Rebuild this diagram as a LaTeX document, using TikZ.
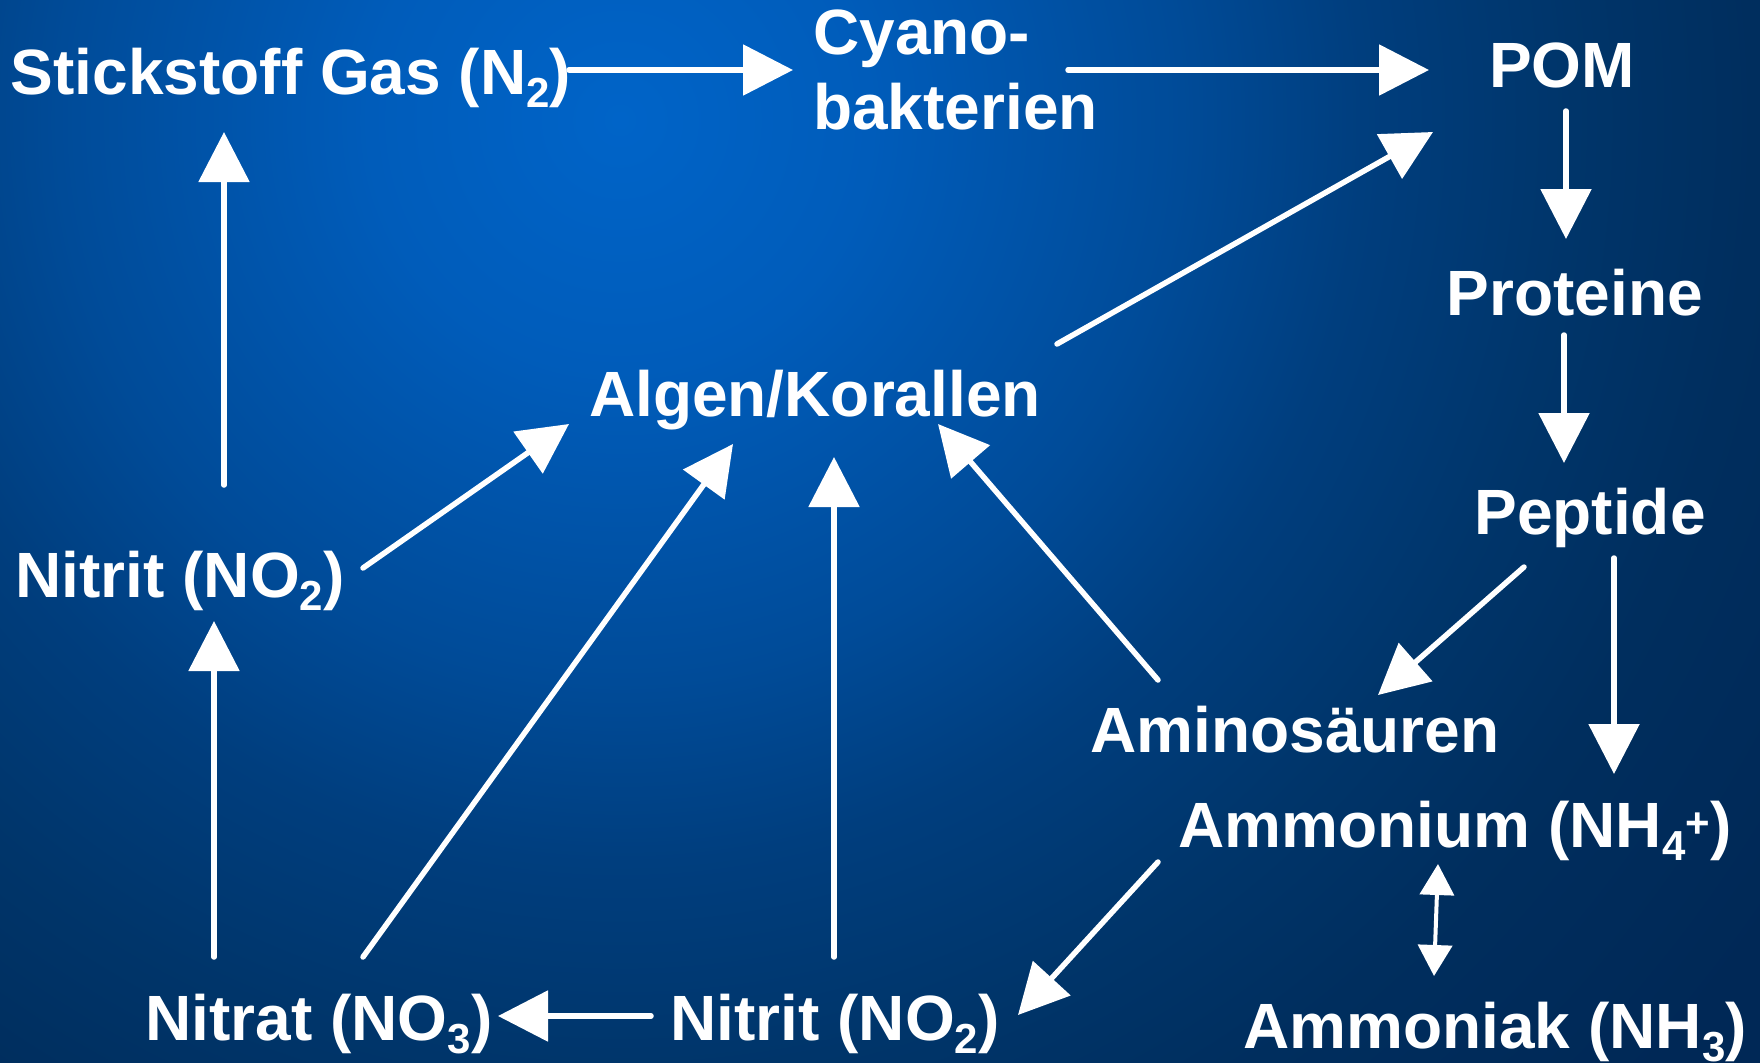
\documentclass[tikz,border=0pt]{standalone}
\usepackage{fontspec}
\setmainfont{Liberation Sans}
\usetikzlibrary{arrows.meta}

% background glow colours
\definecolor{glowA}{HTML}{0064C8}
\definecolor{glowB}{HTML}{005CBA}
\definecolor{glowC}{HTML}{004B98}
\definecolor{glowD}{HTML}{003E7E}
\definecolor{glowE}{HTML}{00356A}
\definecolor{glowF}{HTML}{002E5E}
\definecolor{glowG}{HTML}{002856}

\pgfdeclareradialshading{seaglow}{\pgfpoint{0bp}{0bp}}{%
  color(0bp)=(glowA); color(250bp)=(glowB); color(560bp)=(glowC);
  color(740bp)=(glowD); color(950bp)=(glowE); color(1130bp)=(glowF);
  color(1400bp)=(glowG); color(2000bp)=(glowG)}

% chemical indices
\newcommand{\chemsub}[1]{\raisebox{-13pt}{\fontsize{42}{42}\selectfont #1}}
\newcommand{\chemsup}[1]{\raisebox{10pt}{\fontsize{42}{42}\selectfont #1}}

\begin{document}
\begin{tikzpicture}[x=1pt,y=-1pt,
  term/.style={text=white,inner sep=0pt,font=\fontsize{64}{75}\selectfont\bfseries},
  flow/.style={draw=white,line width=5.5pt,line cap=round,
    -{Triangle[length=50pt,width=50pt]}},
  equil/.style={draw=white,line width=4pt,
    {Triangle[length=31pt,width=34pt]}-{Triangle[length=31pt,width=34pt]}}]

\useasboundingbox (0,0) rectangle (1760,1062);
\begin{scope}
  \clip (0,0) rectangle (1760,1062);
  \node[inner sep=0pt] at (620,120) {\pgfuseshading{seaglow}};
\end{scope}

% compartments
\node[term,anchor=base] (n2) at (291,95) {Stickstoff Gas (N\chemsub{2})};
\node[term,anchor=north west,align=left] (cyano) at (813,10) {Cyano-\\bakterien};
\node[term,anchor=base] (pom) at (1562,88) {POM};
\node[term,anchor=base] (proteine) at (1575,315) {Proteine};
\node[term,anchor=base] (peptide) at (1590,534) {Peptide};
\node[term,anchor=base] (algen) at (815,416) {Algen/Korallen};
\node[term,anchor=base] (nitritL) at (180,597) {Nitrit (NO\chemsub{2})};
\node[term,anchor=base] (amino) at (1295,752) {Aminosäuren};
\node[term,anchor=base] (ammonium) at (1455,847) {Ammonium (NH\chemsub{4}\chemsup{+})};
\node[term,anchor=base] (ammoniak) at (1495,1048) {Ammoniak (NH\chemsub{3})};
\node[term,anchor=base] (nitrat) at (319,1040) {Nitrat (NO\chemsub{3})};
\node[term,anchor=base] (nitritB) at (835,1040) {Nitrit (NO\chemsub{2})};

% connector end points
\coordinate (n2-out) at (569,70);
\coordinate (cyano-in) at (793,70);
\coordinate (cyano-out) at (1068,70);
\coordinate (pom-in) at (1429,70);
\coordinate (pom-in2) at (1433,132);
\coordinate (pom-out) at (1566,111);
\coordinate (proteine-in) at (1566,239);
\coordinate (proteine-out) at (1564,335);
\coordinate (peptide-in) at (1564,463);
\coordinate (peptide-out1) at (1524,567);
\coordinate (peptide-out2) at (1614,558);
\coordinate (amino-in) at (1378,695);
\coordinate (amino-out) at (1158,680);
\coordinate (ammonium-in) at (1614,774);
\coordinate (ammonium-top) at (1438,864);
\coordinate (ammoniak-top) at (1434,976);
\coordinate (ammonium-out) at (1158,862);
\coordinate (nitritB-in) at (1018,1015);
\coordinate (nitritB-out) at (651,1016);
\coordinate (nitritB-up) at (834,957);
\coordinate (nitrat-in) at (498,1016);
\coordinate (nitrat-up) at (214,957);
\coordinate (nitrat-diag) at (363,957);
\coordinate (nitritL-in) at (214,621);
\coordinate (nitritL-up) at (224,485);
\coordinate (nitritL-diag) at (363,568);
\coordinate (n2-in) at (224,132);
\coordinate (algen-in1) at (569,424);
\coordinate (algen-in2) at (733,444);
\coordinate (algen-in3) at (834,457);
\coordinate (algen-in4) at (938,424);
\coordinate (algen-out) at (1057,344);

% nitrogen flows
\draw[flow] (n2-out) -- (cyano-in);
\draw[flow] (cyano-out) -- (pom-in);
\draw[flow] (pom-out) -- (proteine-in);
\draw[flow] (proteine-out) -- (peptide-in);
\draw[flow] (peptide-out1) -- (amino-in);
\draw[flow] (peptide-out2) -- (ammonium-in);
\draw[equil] (ammonium-top) -- (ammoniak-top);
\draw[flow] (ammonium-out) -- (nitritB-in);
\draw[flow] (nitritB-out) -- (nitrat-in);
\draw[flow] (nitrat-up) -- (nitritL-in);
\draw[flow] (nitritL-up) -- (n2-in);
\draw[flow] (nitritL-diag) -- (algen-in1);
\draw[flow] (nitrat-diag) -- (algen-in2);
\draw[flow] (nitritB-up) -- (algen-in3);
\draw[flow] (amino-out) -- (algen-in4);
\draw[flow] (algen-out) -- (pom-in2);
\end{tikzpicture}
\end{document}
